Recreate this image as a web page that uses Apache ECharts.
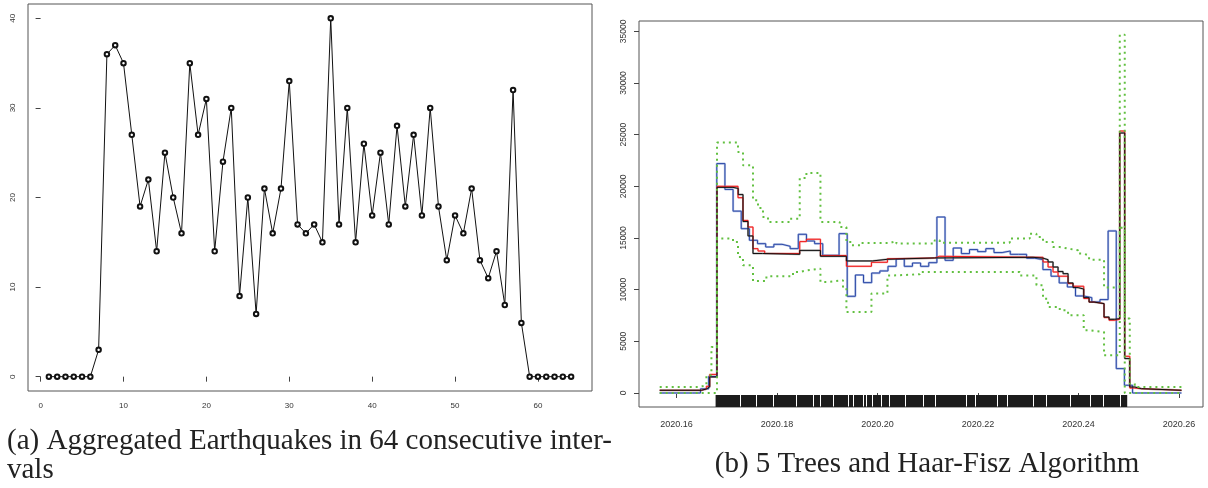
<!DOCTYPE html>
<html><head><meta charset="utf-8">
<script src="https://cdn.jsdelivr.net/npm/echarts@6/dist/echarts.min.js"></script>
<style>html,body{margin:0;padding:0;background:#fff}#c{width:1208px;height:488px}</style>
</head><body><div id="c"></div>
<script>
// ---- Panel (a): aggregated earthquake counts in 64 intervals ----
const intervalIndex = Array.from({length:64},(_,i)=>i+1);
const quakeCounts = [0,0,0,0,0,0,3,36,37,35,27,19,22,14,25,20,16,35,27,31,14,24,30,9,20,7,21,16,21,33,17,16,17,15,40,17,30,15,26,18,25,17,28,19,27,18,30,19,13,18,16,21,13,11,14,8,32,6,0,0,0,0,0,0];
const aXTicks = [0,10,20,30,40,50,60];
const aYTicks = [0,10,20,30,40];

// ---- Panel (b): tree estimates, Haar-Fisz, bounds ----
const bXTicks = [2020.16,2020.18,2020.20,2020.22,2020.24,2020.26];
const bYTicks = [0,5000,10000,15000,20000,25000,30000,35000];
const tEnd = 2020.26050;

const blackT = [2020.15668,2020.16498,2020.16597,2020.16663,2020.16808,2020.17126,2020.17230,2020.17325,2020.17425,2020.17524,2020.17717,2020.18454,2020.18866,2020.19383,2020.19900,2020.20199,2020.21140,2020.23096,2020.23295,2020.23395,2020.23494,2020.23594,2020.23693,2020.23793,2020.23892,2020.23992,2020.24105,2020.24211,2020.24310,2020.24509,2020.24609,2020.24722,2020.24822,2020.24921,2020.25021,2020.25120,2020.25254];
const blackV = [260,390,580,1550,19900,19800,19200,16600,15200,13500,13420,13800,13230,12780,12940,13070,13130,13050,12900,12680,12190,11750,11550,10650,10200,10060,9230,8800,8650,7350,7130,7200,25160,3330,580,420,260];

const redT = [2020.15668,2020.16498,2020.16597,2020.16663,2020.16808,2020.17226,2020.17325,2020.17425,2020.17524,2020.17624,2020.17757,2020.18454,2020.18587,2020.18866,2020.19383,2020.19881,2020.20199,2020.20310,2020.21140,2020.21240,2020.23295,2020.23395,2020.23494,2020.23594,2020.23793,2020.23892,2020.24105,2020.24211,2020.24310,2020.24509,2020.24609,2020.24722,2020.24822,2020.24921,2020.25021,2020.25120,2020.25254];
const redV = [260,390,650,1800,20000,18900,16700,16060,13970,13740,13500,14650,14880,13300,12260,12650,13000,13070,13230,13130,12680,12190,11710,11300,10590,10330,9150,8800,8650,7300,7040,7130,25350,3550,480,420,260];

const hfStart = 2020.15668;
const hfValues = [0,0,0,0,0,400,1600,22200,19700,17600,15900,14780,14450,14130,14390,14200,13970,15360,14710,14450,13330,13330,15420,9360,11420,10680,11610,11810,12260,12970,12260,12580,12260,12610,17030,12840,14030,13490,13880,13680,13970,13590,13740,13420,13420,13040,12910,11940,11300,10650,10260,9390,9230,8810,9040,15680,2360,750,0,0,0,0,0,0];

const upperT = [2020.15668,2020.16444,2020.16597,2020.16697,2020.16808,2020.17226,2020.17325,2020.17524,2020.17624,2020.17723,2020.17823,2020.18255,2020.18454,2020.18587,2020.18866,2020.19250,2020.19383,2020.19483,2020.19682,2020.20245,2020.20378,2020.21140,2020.21240,2020.22633,2020.23031,2020.23164,2020.23295,2020.23494,2020.23628,2020.23793,2020.23992,2020.24105,2020.24211,2020.24509,2020.24822,2020.24921,2020.25021,2020.25120];
const upperV = [580,745,1710,4450,24230,23320,22035,18650,17900,17030,16550,16870,20800,21300,16550,16070,14610,14290,14520,14710,14460,14780,14550,14940,15420,15100,14610,14130,13970,13810,13490,13300,12900,10200,34680,7200,900,580];

const lowerT = [2020.15668,2020.16808,2020.17126,2020.17226,2020.17325,2020.17524,2020.17791,2020.18320,2020.18454,2020.18587,2020.18866,2020.18985,2020.19315,2020.19383,2020.19881,2020.20199,2020.20310,2020.20842,2020.22832,2020.23164,2020.23295,2020.23395,2020.23628,2020.23793,2020.24105,2020.24211,2020.24509,2020.24822,2020.24921];
const lowerV = [0,14940,14610,13160,12360,10840,11290,11710,11870,12035,10740,10900,10260,7840,9620,11370,11490,11710,11370,10420,9130,8320,8000,7520,6070,5900,3650,16000,0];

const rugRange = [2020.1678, 2020.2497];
const rugGaps = [2020.1726,2020.1759,2020.1792,2020.1837,2020.1872,2020.1885,2020.1912,2020.1941,2020.1951,2020.1971,2020.1978,2020.1990,2020.2008,2020.2024,2020.2054,2020.2091,2020.2114,2020.2177,2020.2194,2020.2237,2020.2257,2020.2310,2020.2336,2020.2383,2020.2422,2020.2449,2020.2482];

function stepData(ts, vs){
  const d = ts.map((t,i)=>[t, vs[i]]);
  d.push([tEnd, vs[vs.length-1]]);
  return d;
}
function hfData(){
  const w = (tEnd - hfStart)/hfValues.length;
  const d = hfValues.map((v,i)=>[hfStart + i*w, v]);
  d.push([tEnd, hfValues[hfValues.length-1]]);
  return d;
}

const chart = echarts.init(document.getElementById('c'), null, {renderer:'canvas'});
const tickFont = {fontFamily:'Liberation Sans, Arial, sans-serif', color:'#333'};
function stepSeries(name, data, color, width, extra){
  return Object.assign({name, type:'line', xAxisIndex:1, yAxisIndex:1, data, step:'end', symbol:'none', silent:true,
    lineStyle:{color, width}, animation:false}, extra||{});
}

chart.setOption({
  animation:false,
  backgroundColor:'#fff',
  title:[
    {text:'(a) Aggregated Earthquakes in 64 consecutive inter-\nvals', left:2, top:422,
     textStyle:{fontFamily:'Liberation Serif, serif', fontWeight:'normal', fontSize:29, lineHeight:29, color:'#222'}},
    {text:'(b) 5 Trees and Haar-Fisz Algorithm', left:922, top:444, textAlign:'center',
     textStyle:{fontFamily:'Liberation Serif, serif', fontWeight:'normal', fontSize:29, lineHeight:30, color:'#222'}}
  ],
  grid:[
    {left:28, top:4, width:564, height:387, show:true, borderColor:'#555', borderWidth:1, backgroundColor:'#fff'},
    {left:639, top:21, width:564, height:386, show:true, borderColor:'#555', borderWidth:1, backgroundColor:'#fff'}
  ],
  xAxis:[
    {gridIndex:0, type:'value', min:-1.52, max:66.52, splitLine:{show:false}, axisLine:{show:false},
     axisTick:{show:true, length:5, customValues:aXTicks, lineStyle:{color:'#444'}},
     axisLabel:{customValues:aXTicks, margin:11, fontSize:8, ...tickFont}},
    {gridIndex:1, type:'value', min:2020.15256, max:2020.26478, splitLine:{show:false}, axisLine:{show:false},
     axisTick:{show:true, length:5, customValues:bXTicks, lineStyle:{color:'#444'}},
     axisLabel:{customValues:bXTicks, margin:13, fontSize:9, formatter:v=>Number(v).toFixed(2), ...tickFont}}
  ],
  yAxis:[
    {gridIndex:0, type:'value', min:-1.6, max:41.6, splitLine:{show:false}, axisLine:{show:false},
     axisTick:{show:true, length:5, customValues:aYTicks, lineStyle:{color:'#444'}},
     axisLabel:{customValues:aYTicks, rotate:90, margin:11, fontSize:8, formatter:v=>String(v), ...tickFont}},
    {gridIndex:1, type:'value', min:-1355, max:36000, splitLine:{show:false}, axisLine:{show:false},
     axisTick:{show:true, length:5, customValues:bYTicks, lineStyle:{color:'#444'}},
     axisLabel:{customValues:bYTicks, rotate:90, margin:11, fontSize:8.5, formatter:v=>String(v), ...tickFont}}
  ],
  series:[
    {type:'line', xAxisIndex:0, yAxisIndex:0, data:intervalIndex.map((x,i)=>[x, quakeCounts[i]]),
     symbol:'emptyCircle', symbolSize:4.5, lineStyle:{color:'#111', width:1},
     itemStyle:{color:'#111', borderColor:'#222', borderWidth:0.8}, silent:true},
    {type:'custom', xAxisIndex:1, yAxisIndex:1, silent:true, data:[rugRange],
     renderItem:(params, api)=>{
       const cs = params.coordSys;
       const p0 = api.coord([api.value(0), 0]);
       const p1 = api.coord([api.value(1), 0]);
       const bottom = cs.y + cs.height;
       return {type:'rect', shape:{x:p0[0], y:bottom-12, width:p1[0]-p0[0], height:12}, style:{fill:'#1c1c1c'}};
     }},
    {type:'custom', xAxisIndex:1, yAxisIndex:1, silent:true, data:rugGaps.map(t=>[t]),
     renderItem:(params, api)=>{
       const cs = params.coordSys;
       const p = api.coord([api.value(0), 0]);
       const bottom = cs.y + cs.height;
       return {type:'line', shape:{x1:Math.round(p[0])+0.5, y1:bottom-12, x2:Math.round(p[0])+0.5, y2:bottom-0.5}, style:{stroke:'#fff', lineWidth:1}};
     }},
    stepSeries('hf-light', hfData(), '#b4c3e6', 2.2),
    stepSeries('tree-pink', stepData(redT, redV), '#f8b4b4', 2),
    stepSeries('tree-grey', stepData(blackT, blackV), '#a8a8a8', 2),
    stepSeries('hf', hfData(), '#2b47a6', 1),
    stepSeries('tree-red', stepData(redT, redV), '#f01818', 1),
    stepSeries('tree-black', stepData(blackT, blackV), '#111', 1),
    stepSeries('upper', stepData(upperT, upperV), '#62c040', 2, {lineStyle:{color:'#62c040', width:2, type:[2,4]}}),
    stepSeries('lower', stepData(lowerT, lowerV), '#62c040', 2, {lineStyle:{color:'#62c040', width:2, type:[2,4]}})
  ]
});
</script></body></html>
